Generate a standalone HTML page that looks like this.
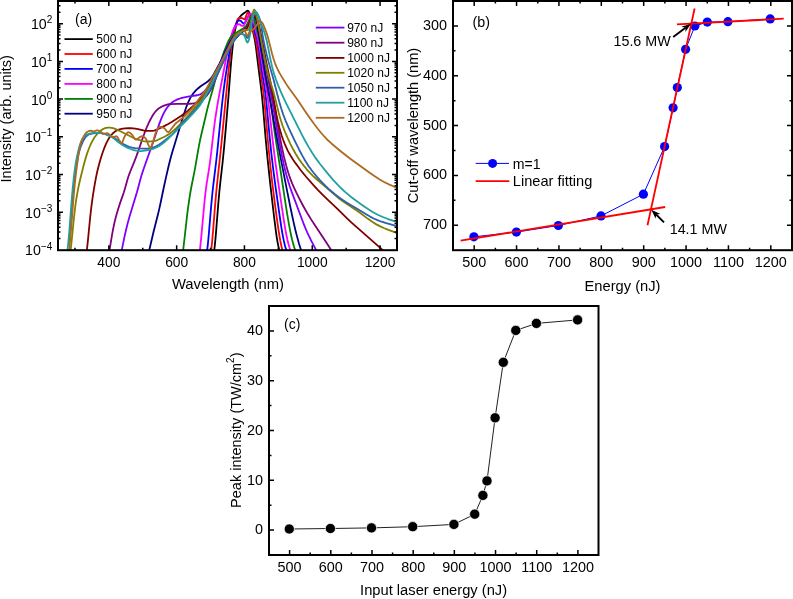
<!DOCTYPE html>
<html><head><meta charset="utf-8"><style>
html,body{margin:0;padding:0;background:#fff;}
svg{display:block;will-change:transform;}
text{font-family:"Liberation Sans", sans-serif;fill:#000;}
</style></head><body>
<svg width="793" height="599" viewBox="0 0 793 599">
<rect width="793" height="599" fill="#fff"/>
<clipPath id="ca"><rect x="58" y="1" width="339" height="249.2"/></clipPath>
<g clip-path="url(#ca)" fill="none" stroke-width="1.8" stroke-linejoin="round" stroke-linecap="round">
<path stroke="#000000" d="M213.9,252.98L214.8,245.66L215.65,236.96L218.3,203.65L219.4,191.25L220.3,182.57L222.65,162.01L224.2,146.32L225.75,128.81L228.25,99.19L231,63.44L232.35,49.62L233,43.93L233.65,38.92L234.7,32.15L235.8,26.73L236.35,24.53L236.85,22.87L237.45,21.23L238.1,19.76L238.8,18.51L239.6,17.37L240.8,15.94L242,14.71L243.45,13.49L245.8,11.89L246.85,11.08L247.3,10.82L247.65,10.75L247.95,10.81L248.3,11.06L248.65,11.45L248.9,11.87L249.35,13.07L249.85,15.06L250.9,20.02L252.6,29.49L254.65,39.13L255.3,42.92L255.95,47.41L258.55,68.41L260.8,85.92L262,96.26L262.95,106.24L265.5,136.95L267.4,157.05L270.05,182.13L274.15,217.52L275.95,231.72L276.8,237.52L277.55,242.02L278.3,245.92L279.15,249.66L279.95,252.59L280.9,255.44"/>
<path stroke="#ff0000" d="M209.99,258.8L210.99,252.05L211.99,243.01L212.89,232.98L215.09,205.4L216.34,191.16L217.29,181.77L219.69,160.17L221.24,145.3L227.84,77.11L228.94,66.76L230.04,57.25L231.14,48.4L232.14,41.3L233.24,34.93L234.49,29.26L235.34,26.13L236.64,21.98L237.19,20.37L237.64,19.36L238.04,18.81L238.69,18.3L239.34,17.99L239.94,17.91L240.99,17.99L242.24,18.22L242.74,18.43L244.09,19.26L244.44,19.34L244.69,19.27L244.94,19L245.24,18.41L246.24,15.62L247.19,13.43L247.59,12.79L247.79,12.63L247.99,12.57L248.24,12.62L248.54,12.79L249.24,13.53L249.64,14.31L249.99,15.46L251.49,22.92L253.19,30.68L253.94,33.61L255.34,38.35L255.94,40.78L256.59,44.07L257.34,48.7L260.44,71.54L262.84,87.76L263.79,95.25L264.89,106.28L267.84,140.21L269.94,162.01L272.14,181.92L274.99,204.45L276.64,216.8L278.14,227.46L279.29,234.93L280.29,240.69L281.44,246.3L282.49,250.5L283.64,254.21L284.89,257.37"/>
<path stroke="#0000ff" d="M205.99,258.77L206.54,255.32L207.04,251.63L208.04,242.55L208.89,233.22L211.09,206.94L212.39,193.28L213.34,184.71L215.64,165.99L216.89,155.03L218.34,141.14L221.74,107.21L223.34,92.62L224.69,82.08L226.34,71.03L229.29,53.3L232.49,34.59L233.19,31.2L233.89,28.93L234.64,27.19L236.19,24.19L237.29,21.57L237.69,20.9L237.99,20.66L238.34,20.57L239.69,20.51L240.24,20.58L240.79,20.94L241.99,22.2L243.24,23.26L243.79,23.53L244.04,23.54L244.24,23.46L244.59,23.15L244.99,22.54L246.29,19.9L248.64,15.62L249.09,14.98L249.64,14.36L250.09,13.96L250.44,13.8L250.69,13.89L250.89,14.17L251.14,14.8L251.39,15.71L254.54,30.86L255.24,33.56L256.69,38.02L257.29,40.17L257.94,43.19L258.59,47.02L259.39,52.56L261.84,70.88L264.39,86.32L265.44,93.86L266.44,103.05L269.49,135.38L271.29,152.9L273.29,169.97L275.79,188.71L280.29,220.25L281.49,228.07L282.64,234.83L283.79,240.66L284.99,245.72L286.14,249.66L286.79,251.55L287.54,253.46"/>
<path stroke="#ff00ff" d="M197.71,263.78L198.36,260.59L199.01,256.67L199.66,251.92L200.31,246.36L201.41,235.36L204.21,204.71L204.96,197.33L205.71,190.72L206.81,182.55L208.96,169.36L210.01,162.09L211.01,154.04L213.61,131.5L215.31,118.47L217.01,107.33L219.11,95.32L224.31,67.66L227.86,50L229.81,41.31L230.81,37.25L231.51,34.74L232.26,32.51L233.16,30.25L233.91,28.68L234.81,27.15L235.71,25.82L236.41,25.07L237.21,24.64L238.51,24.27L239.11,24.22L239.51,24.31L239.86,24.52L240.91,25.33L242.21,25.89L242.86,25.96L243.16,25.85L243.41,25.68L243.81,25.24L244.26,24.57L246.01,21.42L247.91,17.42L248.56,16.2L249.96,14.11L250.41,13.65L250.76,13.48L251.01,13.53L251.26,13.78L251.76,14.84L253.66,21.37L255.66,29.81L257.96,39L258.81,43.06L259.66,47.78L263.01,68.95L265.96,85.45L267.16,93.18L268.91,106.93L272.76,141.13L275.16,160.57L278.16,182.23L283.46,217.88L284.66,225.37L285.61,230.84L286.61,236.05L287.46,239.99L288.46,244.04L289.46,247.5L290.66,250.96L291.71,253.46"/>
<path stroke="#008000" d="M180.23,266.85L180.88,264.26L181.53,261.07L182.13,257.52L182.78,253.02L183.83,244.5L187.13,215.21L188.33,205.91L189.58,197.29L190.48,191.75L191.43,186.47L194.18,172.91L195.23,167.4L198.08,150.72L199.13,144.93L200.13,139.93L201.28,134.71L207.28,109.3L209.03,102.64L212.73,89.54L216.98,73.69L218.48,68.62L220.28,62.9L222.38,56.53L224.08,51.67L225.48,47.99L227.23,43.74L228.73,40.46L229.88,38.31L230.48,37.38L231.03,36.68L231.83,35.89L232.73,35.15L238.93,30.98L243.08,28.47L244.38,27.49L245.43,26.53L246.28,25.55L246.93,24.5L248.63,20.76L250.48,17.05L251.03,16.3L251.28,16.12L251.53,16.04L251.88,16.06L252.33,16.21L252.83,16.49L253.28,16.83L253.73,17.44L254.08,18.35L254.58,20.3L255.93,26.65L258.53,36.06L259.18,38.81L259.88,42.23L265.08,71.59L266.08,76.83L268.43,88.36L269.78,96.06L270.98,104.24L273.88,126.65L275.48,137.98L279.43,163.34L285.68,204.55L287.33,214.88L288.83,223.67L289.98,229.87L290.98,234.78L291.98,239.19L293.13,243.63L294.13,246.96L295.33,250.35L296.48,253.07L297.73,255.54"/>
<path stroke="#000080" d="M142.34,274.11L143.39,272.12L144.39,269.54L145.44,266.07L146.64,261.4L153.44,232.24L157.74,215.29L158.99,210.12L160.34,204.05L163.79,187.48L165.99,177.37L168.44,166.71L170.44,158.76L171.74,154.05L173.24,148.94L183.14,116.43L185.69,108.74L186.84,105.65L187.99,102.84L189.69,99.18L191.34,96.19L193.09,93.62L195.09,91.25L197.39,88.98L200.04,86.75L202.14,85.22L206.34,82.45L208.24,81.01L209.99,79.37L211.54,77.54L212.64,75.95L213.89,73.89L219.49,63.77L221.54,59.62L225.39,51.22L227.84,46.03L229.24,43.32L230.49,41.29L231.74,39.54L232.94,38.05L234.04,36.87L235.09,35.94L235.99,35.28L237.04,34.64L243.49,31.11L244.69,30.26L245.54,29.45L246.34,28.42L247.19,27.1L249.89,22.2L250.44,21.05L251.64,18.01L252.19,16.84L252.64,16.24L252.84,16.1L253.09,16.04L253.59,16.16L254.19,16.54L254.84,17.17L255.44,17.97L255.74,18.58L255.99,19.32L256.59,21.93L258.94,35.41L261.89,54.29L265.59,76.75L267.04,84.73L271.34,107.24L276.49,136L280.99,159.6L286.79,189.35L290.44,207.49L293.29,220.89L295.14,228.98L296.99,236.36L299.09,243.9L300.79,249.34L302.49,254.07L304.24,258.19L305.14,260.03L306.04,261.7L306.94,263.2L307.89,264.62"/>
<path stroke="#8000ff" d="M115.92,273.02L116.67,271.41L117.42,269.38L118.17,266.87L118.92,263.9L120.22,257.92L123.07,243.58L124.52,236.6L126.02,229.95L127.62,223.53L129.77,215.85L136.77,192.84L137.92,188.7L140.27,179.77L141.47,175.57L142.62,171.91L144.12,167.5L152.87,142.9L157.37,129.43L159.12,124.39L160.52,120.61L161.82,117.35L163.02,114.63L164.17,112.33L165.37,110.22L166.62,108.29L167.92,106.54L169.22,105.03L170.52,103.74L171.92,102.58L173.47,101.5L175.17,100.51L176.92,99.67L178.82,98.92L180.92,98.24L183.27,97.62L185.52,97.13L188.12,96.65L197.12,95.26L199.32,94.74L200.72,94.16L202.02,93.36L203.32,92.29L204.77,90.83L206.52,88.76L208.17,86.48L209.77,83.93L211.67,80.55L215.07,73.96L223.27,57.44L228.22,47.3L229.52,44.85L230.72,42.88L232.22,40.65L233.67,38.7L235.07,37.01L236.42,35.59L237.62,34.48L239.07,33.29L242.52,30.6L245.52,28.41L246.42,27.6L247.17,26.79L247.82,25.91L248.57,24.67L250.82,20.35L251.32,19.3L252.32,16.78L252.77,15.81L253.17,15.25L253.37,15.11L253.62,15.05L253.92,15.1L254.32,15.29L255.17,16.02L256.02,17.07L256.57,18.19L257.02,19.56L257.57,21.65L259.47,30.17L260.57,35.95L263.02,50.06L271.82,99.14L277.67,133.24L280.12,146.75L282.17,157.07L284.17,166.18L286.17,174.26L288.17,181.32L289.82,186.48L291.62,191.61L302.32,220.31L304.07,224.83L305.67,228.75L307.22,232.33L308.87,235.9L311.82,241.84L317.27,252.26L320.57,258.34L323.02,262.5L325.17,265.73L327.22,268.33L328.27,269.48L329.32,270.51L330.42,271.46L331.52,272.31"/>
<path stroke="#800080" d="M104.68,271.61L105.43,269.68L106.13,267.42L106.83,264.65L107.58,261.14L108.88,253.97L112.08,234.66L113.03,229.49L113.93,225.06L114.83,221.1L115.78,217.32L116.88,213.32L118.18,208.92L120.13,202.86L122.88,195.16L123.88,192.18L124.93,188.68L127.48,179.48L128.33,176.76L129.18,174.31L130.48,170.96L134.23,161.84L136.43,156.14L138.58,150.15L143.08,137L145.63,130.16L147.23,126.27L148.83,122.71L150.43,119.48L152.03,116.57L153.43,114.3L154.73,112.46L156.03,110.92L157.43,109.56L159.03,108.29L160.78,107.16L162.68,106.18L164.78,105.31L166.33,104.79L167.73,104.44L169.18,104.2L170.83,104.05L177.43,103.83L189.83,103.77L191.68,103.66L193.33,103.4L194.88,103.01L196.63,102.41L198.63,101.58L200.38,100.72L201.73,99.93L203.03,99.03L204.28,98.02L205.53,96.86L207.18,95.05L208.63,93.11L210.03,90.82L211.48,88.06L213.83,82.97L219.18,70.44L227.73,51.65L229.43,48.1L231.03,45.21L232.43,42.94L233.83,40.85L235.18,39.02L236.48,37.44L238.73,35.11L242.58,31.44L245.23,29.02L246.78,27.28L247.33,26.48L247.83,25.6L250.33,20.22L252.28,16.78L252.78,16L253.23,15.45L253.63,15.14L254.03,15.04L254.53,15.22L255.13,15.81L255.78,16.75L256.53,18.11L256.93,19.07L257.28,20.16L258.18,23.8L259.78,31.36L260.63,35.73L265.28,62.21L267.08,71.9L268.93,80.66L272.28,95.18L273.93,103.24L275.43,111.45L279.38,134.27L280.63,140.96L281.98,147.69L283.98,156.75L286.13,165.32L287.13,168.9L288.28,172.71L289.28,175.76L290.48,179.14L292.13,183.35L294.13,187.96L296.48,192.94L299.33,198.64L302.28,204.26L305.18,209.53L307.98,214.34L310.93,219.12L314.43,224.53L325.53,241.28L336.53,258.31L340.33,263.89L342.93,267.27L344.18,268.7L345.38,269.95L346.58,271.07L347.83,272.09L349.08,272.99L350.38,273.79"/>
<path stroke="#800000" d="M85.02,262.16L85.57,259.25L86.07,256.11L87.07,248.37L87.92,240.37L90.17,217.41L90.92,210.55L91.72,204.02L92.67,197.13L93.72,190.31L94.87,183.53L96.02,177.39L97.37,171.06L98.82,165.22L100.72,158.55L102.67,152.44L104.37,147.79L106.12,143.67L107.92,140.12L108.87,138.49L109.82,137.03L111.17,135.2L112.47,133.72L113.87,132.43L115.37,131.33L117.02,130.38L118.77,129.63L120.77,129.01L122.77,128.6L124.97,128.38L128.12,128.25L130.87,128.24L133.07,128.38L135.37,128.67L138.02,129.14L144.27,130.63L145.57,130.83L146.87,130.93L149.47,130.95L152.27,130.81L153.97,130.57L155.47,130.16L157.67,129.25L164.62,125.87L168.27,123.92L172.07,121.7L177.07,118.59L181.02,115.94L184.37,113.47L187.87,110.62L194.37,104.9L196.72,102.69L198.77,100.64L200.77,98.48L202.67,96.27L204.42,94.05L206.07,91.77L207.67,89.35L209.32,86.66L211.12,83.51L212.92,80.17L222.77,60.43L228.07,49.58L229.22,47.38L230.27,45.58L231.82,43.26L233.57,40.92L235.62,38.43L237.67,36.17L239.67,34.15L241.87,32.11L242.92,31.26L245.57,29.37L246.42,28.61L247.12,27.83L247.67,27L248.32,25.78L250.32,21.35L252.72,16.41L253.07,15.81L253.42,15.37L253.77,15.11L254.07,15.05L254.37,15.13L254.67,15.32L255.32,16.03L256.12,17.33L257.12,19.3L257.57,20.44L258.02,21.88L259.12,26.3L261.82,38.89L266.47,62.8L271.07,84.87L272.42,92.13L275.22,108.24L276.47,114.86L277.82,121.23L279.32,127.38L280.47,131.54L281.82,135.92L283.12,139.73L284.62,143.67L286.12,147.2L287.62,150.35L289.32,153.55L291.12,156.6L293.12,159.71L295.32,162.9L297.82,166.33L300.77,170.2L303.42,173.5L306.32,176.97L313.22,184.81L318.07,190.03L322.97,195.01L327.12,199.05L337.17,208.64L347.57,218.85L350.77,221.87L354.12,224.91L380.82,248.34L400.72,266.34L404.42,269.58L407.47,272.01L410.17,273.83L411.52,274.6L412.87,275.27L414.27,275.87L415.72,276.39"/>
<path stroke="#808000" d="M68.83,262.1L69.83,256.36L70.83,248.69L71.68,240.75L73.83,218.88L75.23,206.74L76.03,200.97L76.88,195.58L77.83,190.27L78.83,185.31L80.68,177.22L83.73,165.06L85.48,158.64L87.13,153.36L89.03,148.24L90.08,145.76L91.13,143.49L92.18,141.42L93.28,139.45L94.43,137.6L95.58,135.94L97.23,133.87L98.93,132.08L100.63,130.61L102.38,129.42L104.28,128.47L106.18,127.84L107.93,127.57L109.78,127.61L111.38,127.84L113.08,128.22L114.63,128.7L116.23,129.33L119.78,130.99L133.18,137.74L135.43,138.73L137.78,139.57L141.73,140.67L143.43,141.04L144.93,141.29L147.78,141.48L152.38,141.45L154.28,141.21L156.08,140.67L157.53,140.04L163.43,137.19L165.83,135.94L168.03,134.64L170.18,133.21L172.28,131.63L174.23,129.98L176.23,128.08L184.93,119.31L188.03,115.96L191.18,112.23L198.83,102.86L202.18,98.44L205.23,94.09L207.13,91.18L208.98,88.18L210.78,85.09L212.48,82L214.98,77.13L228.98,48.94L232.58,42.3L233.73,40.33L234.78,38.68L236.43,36.47L238.63,34.01L240.18,32.6L242.18,31.2L243.33,30.49L244.23,30.12L244.98,30.01L247.88,29.98L248.23,29.81L248.53,29.42L249.03,28.24L249.63,26.17L251.58,18.53L252.73,13.41L253.23,11.45L253.73,10.1L253.98,9.74L254.23,9.62L254.48,9.74L254.78,10.16L255.08,10.83L255.43,11.87L256.13,14.48L257.53,20.32L258.33,24.44L260.13,34.62L263.48,52.37L265.88,64.15L267.53,71.54L268.63,75.94L269.63,79.58L272.83,89.84L274.13,94.36L275.38,99.17L278.68,112.63L279.78,116.72L280.83,120.3L282.63,125.72L284.78,131.34L287.48,137.7L290.33,143.84L292.83,148.74L295.48,153.46L298.58,158.44L301.33,162.46L303.93,165.9L306.73,169.28L309.73,172.58L312.93,175.81L315.78,178.49L319.08,181.44L335.33,195.42L339.08,198.46L342.53,201.05L345.83,203.32L352.93,207.89L356.33,210.19L359.93,212.8L367.93,218.86L372.23,221.85L375.93,224.11L379.73,226.13L383.78,227.99L388.38,229.82L405.93,236.14L410.48,237.69L412.93,238.41L415.23,238.99L417.53,239.45L419.98,239.83"/>
<path stroke="#2e5fad" d="M68.71,244.34L69.41,237.8L70.16,229.6L72.51,199.72L73.56,187.69L74.81,175.98L75.46,170.99L76.16,166.28L77.06,161.05L78.06,156.16L79.06,152.08L80.16,148.37L81.36,145.06L82.76,141.9L84.26,139.12L85.01,137.95L85.71,137.01L86.31,136.32L86.96,135.69L87.61,135.19L88.31,134.75L89.11,134.37L89.96,134.06L92.01,133.56L94.96,133.17L97.91,133.05L101.26,133.21L102.66,133.37L103.96,133.61L106.01,134.15L108.66,135.05L110.86,135.92L112.66,136.78L114.86,138.14L119.26,141.43L121.81,143.18L124.26,144.63L126.76,145.83L129.36,146.79L132.21,147.54L135.11,148.05L138.61,148.4L143.26,148.69L146.26,148.74L148.56,148.57L150.96,148.12L153.66,147.34L156.06,146.33L158.81,144.8L161.56,142.94L171.01,135.48L172.56,134.14L173.91,132.81L175.46,131.09L178.76,127.07L180.41,125.18L181.96,123.55L185.81,119.75L187.96,117.53L197.46,107.02L201.01,102.78L204.36,98.3L206.41,95.31L208.41,92.17L210.21,89.12L211.86,86.09L213.86,82.05L218.51,72.05L223.96,60.97L229.56,48.88L231.76,44.66L233.21,42.03L234.41,40.08L235.51,38.57L237.66,36.18L238.81,35.06L239.36,34.63L239.91,34.3L240.41,34.1L240.86,34.02L241.71,34.04L242.71,34.21L243.81,34.53L244.86,34.95L245.21,35.18L245.51,35.5L246.61,37.19L247.06,37.73L247.31,37.88L247.51,37.9L247.71,37.78L247.86,37.61L248.21,36.9L248.61,35.66L250.01,29.93L250.61,27.16L251.81,20.86L252.46,18.18L253.51,14.92L254.21,13.11L254.81,12.05L255.11,11.76L255.41,11.66L255.66,11.7L255.91,11.84L256.51,12.47L257.16,13.49L258.16,15.32L258.71,16.5L259.21,17.78L260.26,21.14L260.71,22.98L261.16,25.34L262.71,35.67L263.56,40.56L264.91,47.05L266.66,54.54L268.96,63.38L273.66,80.09L277.66,95.81L279.16,101.46L281.16,108.3L283.16,114.33L285.61,120.77L288.46,127.38L294.31,139.82L299.06,149.46L302.31,155.63L305.36,160.93L308.36,165.65L311.51,170.09L314.01,173.29L316.76,176.57L319.86,180.04L323.06,183.43L325.96,186.31L328.91,189.06L331.96,191.73L335.21,194.39L337.91,196.48L340.56,198.43L343.16,200.24L345.76,201.95L349.36,204.16L358.41,209.5L366.91,214.74L370.06,216.59L373.76,218.54L377.46,220.19L381.56,221.73L386.26,223.23L391.61,224.72L410.16,229.62L412.71,230.19L415.06,230.63L417.46,230.99L419.96,231.28"/>
<path stroke="#20a0a0" d="M66.95,253.93L67.9,246.35L68.85,236.56L69.65,226.79L71.6,201.04L72.75,187.52L73.8,177.24L74.9,168.52L75.75,163L76.7,157.85L77.8,152.83L79,148.1L80.1,144.37L81.15,141.48L82.2,139.27L82.75,138.36L83.35,137.51L84,136.75L84.75,136.01L85.5,135.41L86.35,134.85L87.2,134.4L88.1,134.03L90.2,133.45L91.8,133.18L93.65,132.95L95.5,132.81L97.05,132.78L98.35,132.83L99.7,132.97L102.7,133.55L104.95,134.19L107.35,135.07L109.9,136.16L111.95,137.21L113.15,137.95L114.3,138.77L118.45,142.19L120.7,143.85L123.65,145.71L126.75,147.36L129.85,148.73L132.95,149.82L136.1,150.64L137.5,150.89L138.75,151.04L140,151.1L141.3,151.08L144.85,150.72L148.25,150.2L151.2,149.48L153.95,148.53L156.55,147.38L159.2,145.92L161.65,144.28L163.15,143.13L164.85,141.7L168.65,138.23L185.55,121.27L191.2,115.44L195.55,110.74L198.1,107.75L200.2,104.92L202,102.11L204,98.6L206.75,93.39L210.75,85.58L213.55,79.71L217.6,70.44L219.45,66.4L227.45,50.26L229.4,46.68L233.1,40.67L234.9,37.32L235.55,36.38L236.5,35.42L237.5,34.53L238.3,33.95L239.05,33.53L239.75,33.29L240.45,33.21L241.15,33.31L241.85,33.57L242.5,33.91L243.25,34.42L243.85,34.9L244.2,35.28L244.5,35.78L244.85,36.57L246.2,40.46L246.8,41.84L247.1,42.28L247.4,42.49L247.65,42.45L247.95,42.15L248.4,41.19L248.85,39.76L250,34.87L250.5,31.74L251.6,23.13L251.95,21.1L252.4,18.99L253.1,16.25L254.15,12.86L254.55,11.96L254.75,11.74L254.95,11.67L255.25,11.71L255.6,11.88L256.45,12.59L257.3,13.57L257.85,14.59L258.35,15.85L261.85,25.59L263.6,30.18L264.5,32.82L265.75,36.99L266.75,40.99L270.95,61.61L272.05,66.46L273.15,70.74L274.45,75.14L276.1,79.98L278.15,85.35L280.45,90.92L283.45,97.65L287.3,105.62L299.35,129.66L302.5,135.8L305.1,140.71L308.7,147.13L312.15,152.78L315.75,158.15L319.7,163.54L322.45,167.07L325.55,170.9L329.3,175.4L332.65,179.3L335.2,182.15L337.6,184.71L340,187.15L342.45,189.51L345.05,191.88L347.7,194.17L350.45,196.43L353.45,198.77L357.2,201.56L361.35,204.55L365.3,207.28L368.8,209.6L373.45,212.45L377.7,214.73L382.2,216.77L387.35,218.78L394.95,221.35L405.5,224.75L409.9,226.09L412.5,226.79L414.95,227.35L417.4,227.79L419.95,228.14"/>
<path stroke="#ad6a1f" d="M67.89,258.84L68.49,255.06L69.04,250.9L70.14,240.42L71.09,229.27L73.49,198.53L74.79,184.17L76.09,172.42L76.99,165.56L77.99,158.91L78.04,157.65L78.99,151.91L79.69,148.11L80.34,145.16L80.99,142.84L81.89,140.23L82.89,137.92L84.39,135.18L85.64,133.34L86.39,132.54L87.19,131.96L88.54,131.2L89.64,130.8L90.24,130.72L90.79,130.74L92.74,131.22L93.54,131.28L94.44,131.14L96.84,130.46L97.54,130.42L98.24,130.54L99.29,130.93L100.39,131.49L100.99,131.97L102.49,133.45L102.89,133.73L103.29,133.91L103.74,133.97L104.24,133.91L106.09,133.29L106.69,133.15L107.19,133.14L107.64,133.26L108.29,133.66L111.74,136.42L112.29,136.77L112.79,136.99L113.24,137.07L113.69,137.04L115.84,136.29L116.29,136.24L116.69,136.34L117.09,136.66L117.54,137.24L119.09,139.96L120.64,142.28L121.19,142.9L121.44,143.05L121.64,143.09L121.99,142.9L122.34,142.37L122.74,141.41L123.64,138.74L124.09,137.59L124.64,136.54L125.99,134.3L126.74,133.27L127.44,132.58L128.09,132.26L128.74,132.28L129.34,132.5L130.04,132.93L131.04,133.74L131.99,134.61L132.74,135.62L134.59,138.72L135.09,139.3L135.59,139.61L136.09,139.64L136.74,139.39L137.39,138.95L139.34,137.37L140.29,136.87L141.44,136.39L142.14,136.23L142.74,136.25L143.34,136.44L143.99,136.82L145.14,137.84L145.74,138.51L146.09,139.01L146.64,140.22L147.84,143.68L149.09,146.33L149.59,147.19L149.99,147.67L150.34,147.88L150.69,147.81L150.94,147.57L151.24,147.08L151.94,145.27L153.39,140.76L154.99,134.91L155.74,132.65L156.34,131.36L157.44,129.35L158.19,128.2L158.84,127.43L159.54,126.94L159.89,126.84L160.29,126.82L161.54,127.04L163.04,127.6L164.09,128.11L164.69,128.57L165.29,129.25L166.69,131.09L167.39,131.78L167.74,131.98L168.09,132.05L168.44,132L168.79,131.84L169.34,131.4L169.94,130.73L174.59,124.6L175.64,123.37L175.99,123.02L176.04,123.25L177.54,121.94L181.29,119.08L183.24,117.42L185.34,115.48L187.84,113.01L190.14,110.57L192.24,108.15L194.09,105.82L199.64,98.02L204.54,91.82L205.54,90.38L206.49,88.84L207.89,86.29L210.84,80.37L212.34,77.53L218.69,66.73L222.89,59.07L227.34,50.31L231.29,41.95L232.34,39.87L233.54,37.88L235.09,35.9L236.79,34.15L237.59,33.5L238.39,32.96L239.54,32.33L241.74,31.33L243.24,30.57L243.84,30.34L244.34,30.24L244.59,30.28L244.79,30.42L245.14,30.99L246.24,34.25L246.59,35.07L246.94,35.47L247.14,35.5L247.34,35.42L247.84,34.92L248.94,33.21L249.49,32.53L250.19,31.91L252.39,30.21L253.54,29.15L254.39,28.27L255.24,27.2L256.89,24.63L258.54,22.46L259.34,21.61L259.69,21.37L260.04,21.25L260.54,21.29L261.14,21.62L261.99,22.41L262.49,23.13L263.04,24.17L263.69,25.62L265.99,31.4L267.09,34.59L268.24,38.59L272.09,53.76L273.09,57.35L273.99,60.27L275.14,63.57L276.49,66.9L277.94,69.97L279.64,73.16L283.29,79.35L286.99,85.14L289.29,88.45L294.24,95.24L296.94,99.05L306.64,113.42L310.14,118.48L313.99,123.8L317.74,128.7L321.24,133.01L324.49,136.72L327.94,140.26L331.69,143.7L340.99,151.44L346.39,155.78L350.29,158.72L369.64,172.77L374.79,176.34L379.34,179.26L381.74,180.69L384.09,181.99L386.39,183.17L388.79,184.31L393.44,186.29L404.99,190.88L409.69,192.67L413.19,193.82L416.49,194.67L419.99,195.3"/>
</g>
<line x1="64.5" x2="92.8" y1="39.1" y2="39.1" stroke="#000000" stroke-width="1.8"/>
<text x="96.3" y="43.4" font-size="12">500 nJ</text>
<line x1="64.5" x2="92.8" y1="54" y2="54" stroke="#ff0000" stroke-width="1.8"/>
<text x="96.3" y="58.3" font-size="12">600 nJ</text>
<line x1="64.5" x2="92.8" y1="68.9" y2="68.9" stroke="#0000ff" stroke-width="1.8"/>
<text x="96.3" y="73.2" font-size="12">700 nJ</text>
<line x1="64.5" x2="92.8" y1="83.9" y2="83.9" stroke="#ff00ff" stroke-width="1.8"/>
<text x="96.3" y="88.2" font-size="12">800 nJ</text>
<line x1="64.5" x2="92.8" y1="98.9" y2="98.9" stroke="#008000" stroke-width="1.8"/>
<text x="96.3" y="103.2" font-size="12">900 nJ</text>
<line x1="64.5" x2="92.8" y1="113.7" y2="113.7" stroke="#000080" stroke-width="1.8"/>
<text x="96.3" y="118" font-size="12">950 nJ</text>
<line x1="315.8" x2="344.4" y1="27.6" y2="27.6" stroke="#8000ff" stroke-width="1.8"/>
<text x="347.2" y="31.9" font-size="12">970 nJ</text>
<line x1="315.8" x2="344.4" y1="42.7" y2="42.7" stroke="#800080" stroke-width="1.8"/>
<text x="347.2" y="47" font-size="12">980 nJ</text>
<line x1="315.8" x2="344.4" y1="57.9" y2="57.9" stroke="#800000" stroke-width="1.8"/>
<text x="347.2" y="62.2" font-size="12">1000 nJ</text>
<line x1="315.8" x2="344.4" y1="72.8" y2="72.8" stroke="#808000" stroke-width="1.8"/>
<text x="347.2" y="77.1" font-size="12">1020 nJ</text>
<line x1="315.8" x2="344.4" y1="87.7" y2="87.7" stroke="#2e5fad" stroke-width="1.8"/>
<text x="347.2" y="92" font-size="12">1050 nJ</text>
<line x1="315.8" x2="344.4" y1="102.7" y2="102.7" stroke="#20a0a0" stroke-width="1.8"/>
<text x="347.2" y="107" font-size="12">1100 nJ</text>
<line x1="315.8" x2="344.4" y1="117.8" y2="117.8" stroke="#ad6a1f" stroke-width="1.8"/>
<text x="347.2" y="122.1" font-size="12">1200 nJ</text>
<rect x="58" y="1" width="339" height="249.2" fill="none" stroke="#000" stroke-width="2.0"/>
<text x="108.85" y="266.6" font-size="13.8" text-anchor="middle">400</text>
<text x="176.65" y="266.6" font-size="13.8" text-anchor="middle">600</text>
<text x="244.45" y="266.6" font-size="13.8" text-anchor="middle">800</text>
<text x="312.25" y="266.6" font-size="13.8" text-anchor="middle">1000</text>
<text x="380.05" y="266.6" font-size="13.8" text-anchor="middle">1200</text>
<text x="52.3" y="255.4" font-size="14.2" text-anchor="end">10<tspan font-size="10" dy="-5.9">−4</tspan></text>
<text x="52.3" y="217.7" font-size="14.2" text-anchor="end">10<tspan font-size="10" dy="-5.9">−3</tspan></text>
<text x="52.3" y="180" font-size="14.2" text-anchor="end">10<tspan font-size="10" dy="-5.9">−2</tspan></text>
<text x="52.3" y="142.3" font-size="14.2" text-anchor="end">10<tspan font-size="10" dy="-5.9">−1</tspan></text>
<text x="52.3" y="104.6" font-size="14.2" text-anchor="end">10<tspan font-size="10" dy="-5.9">0</tspan></text>
<text x="52.3" y="66.9" font-size="14.2" text-anchor="end">10<tspan font-size="10" dy="-5.9">1</tspan></text>
<text x="52.3" y="29.2" font-size="14.2" text-anchor="end">10<tspan font-size="10" dy="-5.9">2</tspan></text>
<text x="75" y="24.4" font-size="14">(a)</text>
<text x="228" y="289.4" font-size="14.8" text-anchor="middle">Wavelength (nm)</text>
<text transform="translate(10.6,118.75) rotate(-90)" font-size="14.5" text-anchor="middle">Intensity (arb. units)</text>
<rect x="453" y="1" width="339" height="249.2" fill="none" stroke="#000" stroke-width="2.0"/>
<text x="474.19" y="267.2" font-size="14.4" text-anchor="middle">500</text>
<text x="516.56" y="267.2" font-size="14.4" text-anchor="middle">600</text>
<text x="558.94" y="267.2" font-size="14.4" text-anchor="middle">700</text>
<text x="601.31" y="267.2" font-size="14.4" text-anchor="middle">800</text>
<text x="643.69" y="267.2" font-size="14.4" text-anchor="middle">900</text>
<text x="686.06" y="267.2" font-size="14.4" text-anchor="middle">1000</text>
<text x="728.44" y="267.2" font-size="14.4" text-anchor="middle">1100</text>
<text x="770.81" y="267.2" font-size="14.4" text-anchor="middle">1200</text>
<text x="447.1" y="29.92" font-size="14.4" text-anchor="end">300</text>
<text x="447.1" y="79.76" font-size="14.4" text-anchor="end">400</text>
<text x="447.1" y="129.6" font-size="14.4" text-anchor="end">500</text>
<text x="447.1" y="179.44" font-size="14.4" text-anchor="end">600</text>
<text x="447.1" y="229.28" font-size="14.4" text-anchor="end">700</text>
<text x="472.6" y="27.1" font-size="14.3">(b)</text>
<text x="622.5" y="290.9" font-size="14.7" text-anchor="middle">Energy (nJ)</text>
<text transform="translate(417.5,125.5) rotate(-90)" font-size="14.6" text-anchor="middle">Cut-off wavelength (nm)</text>
<polyline fill="none" stroke="#0000ff" stroke-width="1" points="473.9,236.8 516.4,232.1 558.4,225.5 601,215.9 643.4,194.2 664.6,146.6 673.1,107.8 677.3,87.5 685.6,49.3 694.9,26 707.3,22.1 727.9,21.7 770.2,18.9"/>
<circle cx="473.9" cy="236.8" r="4.6" fill="#0000ff"/>
<circle cx="516.4" cy="232.1" r="4.6" fill="#0000ff"/>
<circle cx="558.4" cy="225.5" r="4.6" fill="#0000ff"/>
<circle cx="601" cy="215.9" r="4.6" fill="#0000ff"/>
<circle cx="643.4" cy="194.2" r="4.6" fill="#0000ff"/>
<circle cx="664.6" cy="146.6" r="4.6" fill="#0000ff"/>
<circle cx="673.1" cy="107.8" r="4.6" fill="#0000ff"/>
<circle cx="677.3" cy="87.5" r="4.6" fill="#0000ff"/>
<circle cx="685.6" cy="49.3" r="4.6" fill="#0000ff"/>
<circle cx="694.9" cy="26" r="4.6" fill="#0000ff"/>
<circle cx="707.3" cy="22.1" r="4.6" fill="#0000ff"/>
<circle cx="727.9" cy="21.7" r="4.6" fill="#0000ff"/>
<circle cx="770.2" cy="18.9" r="4.6" fill="#0000ff"/>
<g stroke="#ff0000" stroke-width="1.8" fill="none">
<line x1="460.6" y1="240.6" x2="665.1" y2="207"/>
<line x1="647.5" y1="225.3" x2="694.6" y2="8.5"/>
<line x1="676.9" y1="24.3" x2="783.7" y2="18.7"/>
</g>
<line x1="673.2" y1="36.9" x2="685.51" y2="27.77" stroke="#000" stroke-width="1.9"/>
<path d="M691,23.7L685.39,32.09L685.51,27.77L681.34,26.63Z" fill="#000"/>
<line x1="664" y1="222.4" x2="656.14" y2="214.54" stroke="#000" stroke-width="1.9"/>
<path d="M651.3,209.7L660.42,214.01L656.14,214.54L655.61,218.82Z" fill="#000"/>
<text x="613.5" y="46.3" font-size="14.3">15.6 MW</text>
<text x="669.7" y="234.1" font-size="14.3">14.1 MW</text>
<line x1="475.7" x2="509" y1="163.4" y2="163.4" stroke="#0000ff" stroke-width="1"/>
<circle cx="492.6" cy="163.4" r="4.5" fill="#0000ff"/>
<line x1="475.7" x2="509.3" y1="181.1" y2="181.1" stroke="#ff0000" stroke-width="1.8"/>
<text x="512.8" y="168.5" font-size="14.1">m=1</text>
<text x="512.8" y="186.2" font-size="14.6">Linear fitting</text>
<rect x="269" y="306" width="329.5" height="249" fill="none" stroke="#000" stroke-width="2.0"/>
<text x="289.59" y="572.2" font-size="14.4" text-anchor="middle">500</text>
<text x="330.78" y="572.2" font-size="14.4" text-anchor="middle">600</text>
<text x="371.97" y="572.2" font-size="14.4" text-anchor="middle">700</text>
<text x="413.16" y="572.2" font-size="14.4" text-anchor="middle">800</text>
<text x="454.34" y="572.2" font-size="14.4" text-anchor="middle">900</text>
<text x="495.53" y="572.2" font-size="14.4" text-anchor="middle">1000</text>
<text x="536.72" y="572.2" font-size="14.4" text-anchor="middle">1100</text>
<text x="577.91" y="572.2" font-size="14.4" text-anchor="middle">1200</text>
<text x="263.0" y="534.3" font-size="14.4" text-anchor="end">0</text>
<text x="263.0" y="484.5" font-size="14.4" text-anchor="end">10</text>
<text x="263.0" y="434.7" font-size="14.4" text-anchor="end">20</text>
<text x="263.0" y="384.9" font-size="14.4" text-anchor="end">30</text>
<text x="263.0" y="335.1" font-size="14.4" text-anchor="end">40</text>
<text x="284" y="328.9" font-size="14">(c)</text>
<text x="433.6" y="595.4" font-size="14.7" text-anchor="middle">Input laser energy (nJ)</text>
<text transform="translate(241,430.2) rotate(-90)" font-size="14.5" text-anchor="middle">Peak intensity (TW/cm<tspan font-size="10" dy="-6.8">2</tspan><tspan dy="6.8">)</tspan></text>
<polyline fill="none" stroke="#222" stroke-width="1" points="289.3,529 330.4,528.5 371.5,527.9 412.7,526.7 453.9,524.4 474.7,514.2 482.9,495.4 487,480.9 495.1,417.8 503.3,362.3 515.8,330.4 536.4,323.4 577.6,319.9"/>
<circle cx="289.3" cy="529" r="5.1" fill="#000" stroke="#fff" stroke-width="0.7"/>
<circle cx="330.4" cy="528.5" r="5.1" fill="#000" stroke="#fff" stroke-width="0.7"/>
<circle cx="371.5" cy="527.9" r="5.1" fill="#000" stroke="#fff" stroke-width="0.7"/>
<circle cx="412.7" cy="526.7" r="5.1" fill="#000" stroke="#fff" stroke-width="0.7"/>
<circle cx="453.9" cy="524.4" r="5.1" fill="#000" stroke="#fff" stroke-width="0.7"/>
<circle cx="474.7" cy="514.2" r="5.1" fill="#000" stroke="#fff" stroke-width="0.7"/>
<circle cx="482.9" cy="495.4" r="5.1" fill="#000" stroke="#fff" stroke-width="0.7"/>
<circle cx="487" cy="480.9" r="5.1" fill="#000" stroke="#fff" stroke-width="0.7"/>
<circle cx="495.1" cy="417.8" r="5.1" fill="#000" stroke="#fff" stroke-width="0.7"/>
<circle cx="503.3" cy="362.3" r="5.1" fill="#000" stroke="#fff" stroke-width="0.7"/>
<circle cx="515.8" cy="330.4" r="5.1" fill="#000" stroke="#fff" stroke-width="0.7"/>
<circle cx="536.4" cy="323.4" r="5.1" fill="#000" stroke="#fff" stroke-width="0.7"/>
<circle cx="577.6" cy="319.9" r="5.1" fill="#000" stroke="#fff" stroke-width="0.7"/>
<path d="M74.95,250.2L74.95,247.7M74.95,1L74.95,3.5M108.85,250.2L108.85,245.2M108.85,1L108.85,6M142.75,250.2L142.75,247.7M142.75,1L142.75,3.5M176.65,250.2L176.65,245.2M176.65,1L176.65,6M210.55,250.2L210.55,247.7M210.55,1L210.55,3.5M244.45,250.2L244.45,245.2M244.45,1L244.45,6M278.35,250.2L278.35,247.7M278.35,1L278.35,3.5M312.25,250.2L312.25,245.2M312.25,1L312.25,6M346.15,250.2L346.15,247.7M346.15,1L346.15,3.5M380.05,250.2L380.05,245.2M380.05,1L380.05,6M58,238.55L60.5,238.55M397,238.55L394.5,238.55M58,231.91L60.5,231.91M397,231.91L394.5,231.91M58,227.2L60.5,227.2M397,227.2L394.5,227.2M58,223.55L60.5,223.55M397,223.55L394.5,223.55M58,220.56L60.5,220.56M397,220.56L394.5,220.56M58,218.04L60.5,218.04M397,218.04L394.5,218.04M58,215.85L60.5,215.85M397,215.85L394.5,215.85M58,213.93L60.5,213.93M397,213.93L394.5,213.93M58,212.2L63,212.2M397,212.2L392,212.2M58,200.85L60.5,200.85M397,200.85L394.5,200.85M58,194.21L60.5,194.21M397,194.21L394.5,194.21M58,189.5L60.5,189.5M397,189.5L394.5,189.5M58,185.85L60.5,185.85M397,185.85L394.5,185.85M58,182.86L60.5,182.86M397,182.86L394.5,182.86M58,180.34L60.5,180.34M397,180.34L394.5,180.34M58,178.15L60.5,178.15M397,178.15L394.5,178.15M58,176.23L60.5,176.23M397,176.23L394.5,176.23M58,174.5L63,174.5M397,174.5L392,174.5M58,163.15L60.5,163.15M397,163.15L394.5,163.15M58,156.51L60.5,156.51M397,156.51L394.5,156.51M58,151.8L60.5,151.8M397,151.8L394.5,151.8M58,148.15L60.5,148.15M397,148.15L394.5,148.15M58,145.16L60.5,145.16M397,145.16L394.5,145.16M58,142.64L60.5,142.64M397,142.64L394.5,142.64M58,140.45L60.5,140.45M397,140.45L394.5,140.45M58,138.53L60.5,138.53M397,138.53L394.5,138.53M58,136.8L63,136.8M397,136.8L392,136.8M58,125.45L60.5,125.45M397,125.45L394.5,125.45M58,118.81L60.5,118.81M397,118.81L394.5,118.81M58,114.1L60.5,114.1M397,114.1L394.5,114.1M58,110.45L60.5,110.45M397,110.45L394.5,110.45M58,107.46L60.5,107.46M397,107.46L394.5,107.46M58,104.94L60.5,104.94M397,104.94L394.5,104.94M58,102.75L60.5,102.75M397,102.75L394.5,102.75M58,100.83L60.5,100.83M397,100.83L394.5,100.83M58,99.1L63,99.1M397,99.1L392,99.1M58,87.75L60.5,87.75M397,87.75L394.5,87.75M58,81.11L60.5,81.11M397,81.11L394.5,81.11M58,76.4L60.5,76.4M397,76.4L394.5,76.4M58,72.75L60.5,72.75M397,72.75L394.5,72.75M58,69.76L60.5,69.76M397,69.76L394.5,69.76M58,67.24L60.5,67.24M397,67.24L394.5,67.24M58,65.05L60.5,65.05M397,65.05L394.5,65.05M58,63.13L60.5,63.13M397,63.13L394.5,63.13M58,61.4L63,61.4M397,61.4L392,61.4M58,50.05L60.5,50.05M397,50.05L394.5,50.05M58,43.41L60.5,43.41M397,43.41L394.5,43.41M58,38.7L60.5,38.7M397,38.7L394.5,38.7M58,35.05L60.5,35.05M397,35.05L394.5,35.05M58,32.06L60.5,32.06M397,32.06L394.5,32.06M58,29.54L60.5,29.54M397,29.54L394.5,29.54M58,27.35L60.5,27.35M397,27.35L394.5,27.35M58,25.43L60.5,25.43M397,25.43L394.5,25.43M58,23.7L63,23.7M397,23.7L392,23.7M58,12.35L60.5,12.35M397,12.35L394.5,12.35M58,5.71L60.5,5.71M397,5.71L394.5,5.71M474.19,250.2L474.19,245.2M474.19,1L474.19,6M495.38,250.2L495.38,247.7M495.38,1L495.38,3.5M516.56,250.2L516.56,245.2M516.56,1L516.56,6M537.75,250.2L537.75,247.7M537.75,1L537.75,3.5M558.94,250.2L558.94,245.2M558.94,1L558.94,6M580.12,250.2L580.12,247.7M580.12,1L580.12,3.5M601.31,250.2L601.31,245.2M601.31,1L601.31,6M622.5,250.2L622.5,247.7M622.5,1L622.5,3.5M643.69,250.2L643.69,245.2M643.69,1L643.69,6M664.88,250.2L664.88,247.7M664.88,1L664.88,3.5M686.06,250.2L686.06,245.2M686.06,1L686.06,6M707.25,250.2L707.25,247.7M707.25,1L707.25,3.5M728.44,250.2L728.44,245.2M728.44,1L728.44,6M749.62,250.2L749.62,247.7M749.62,1L749.62,3.5M770.81,250.2L770.81,245.2M770.81,1L770.81,6M453,25.92L458,25.92M792,25.92L787,25.92M453,50.84L455.5,50.84M792,50.84L789.5,50.84M453,75.76L458,75.76M792,75.76L787,75.76M453,100.68L455.5,100.68M792,100.68L789.5,100.68M453,125.6L458,125.6M792,125.6L787,125.6M453,150.52L455.5,150.52M792,150.52L789.5,150.52M453,175.44L458,175.44M792,175.44L787,175.44M453,200.36L455.5,200.36M792,200.36L789.5,200.36M453,225.28L458,225.28M792,225.28L787,225.28M289.59,555L289.59,550M310.19,555L310.19,552.5M330.78,555L330.78,550M351.38,555L351.38,552.5M371.97,555L371.97,550M392.56,555L392.56,552.5M413.16,555L413.16,550M433.75,555L433.75,552.5M454.34,555L454.34,550M474.94,555L474.94,552.5M495.53,555L495.53,550M516.12,555L516.12,552.5M536.72,555L536.72,550M557.31,555L557.31,552.5M577.91,555L577.91,550M269,530.1L274,530.1M269,505.2L271.5,505.2M269,480.3L274,480.3M269,455.4L271.5,455.4M269,430.5L274,430.5M269,405.6L271.5,405.6M269,380.7L274,380.7M269,355.8L271.5,355.8M269,330.9L274,330.9" stroke="#000" stroke-width="1.5" fill="none"/>
</svg>
</body></html>
